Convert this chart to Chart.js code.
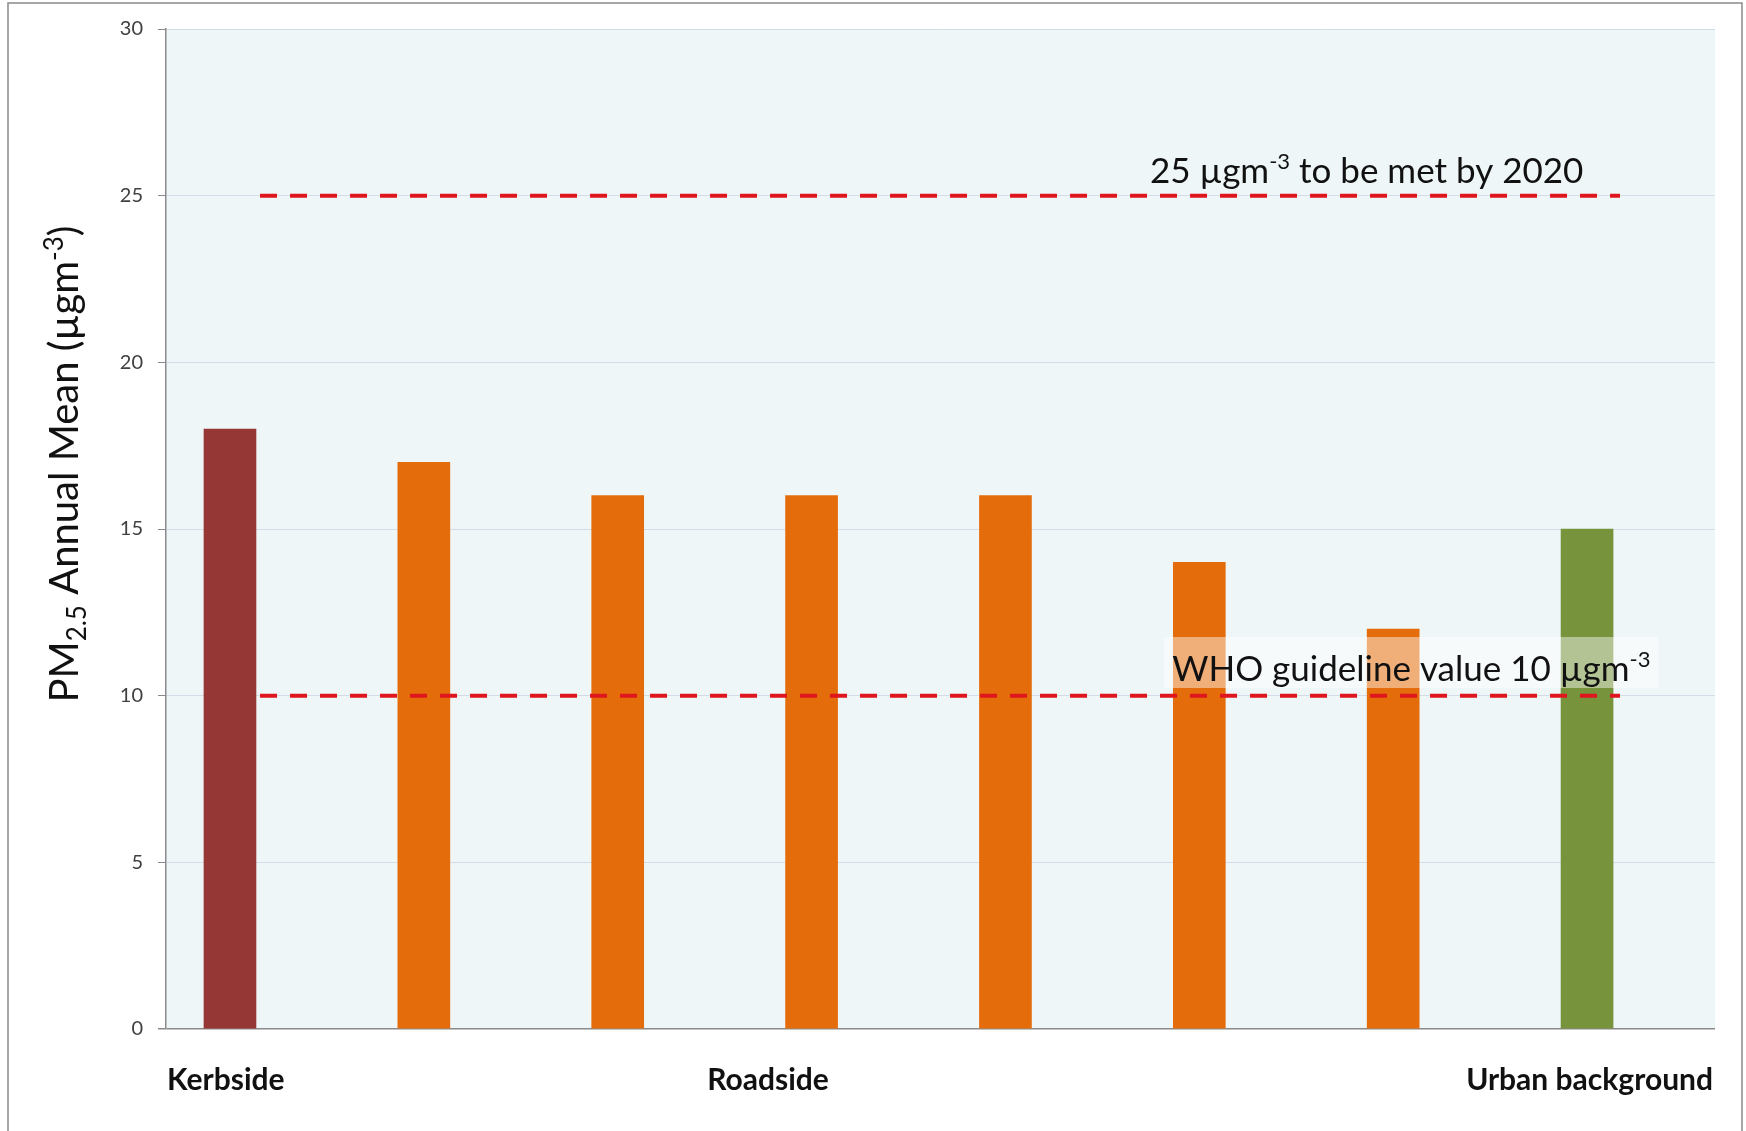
<!DOCTYPE html>
<html>
<head>
<meta charset="utf-8">
<script src="https://cdn.jsdelivr.net/npm/chart.js@4.4.0/dist/chart.umd.min.js"></script>
<style>
    body { margin: 0; background: #fff; }
    #wrap { width: 1746px; height: 1131px; }
</style>
</head>
<body>
<div id="wrap"><canvas id="pmChart" width="1746" height="1131"></canvas></div>
<script>
// Monitoring sites, left to right
const siteTypes = ['Kerbside', 'Roadside', 'Roadside', 'Roadside', 'Roadside', 'Roadside', 'Roadside', 'Urban background'];
const annualMeans = [18, 17, 16, 16, 16, 14, 12, 15];

// Group captions under the axis
const groupLabels = ['Kerbside', 'Roadside', 'Urban background'];

// Limit values and their captions
const limitValues = [25, 10];
const limitLabels = [
    ['25 µgm', '-3', ' to be met by 2020'],
    ['WHO guideline value 10 µgm', '-3', '']
];

const yTicks = [0, 5, 10, 15, 20, 25, 30];

const typeColors = {
    'Kerbside': '#953735',
    'Roadside': '#E46C0A',
    'Urban background': '#77933C'
};

const FONT = 'Lato, "Open Sans", sans-serif';
const AXIS_GREY = '#8a8a8a';

// Draw a run of text pieces; odd pieces are superscripts
function drawSupText(ctx, parts, x, y, size) {
    let cx = x;
    parts.forEach((p, i) => {
        if (!p) return;
        const sup = i % 2 === 1;
        ctx.font = (sup ? Math.round(size * 0.62) : size) + 'px ' + FONT;
        ctx.fillText(p, cx, sup ? y - size * 0.38 : y);
        cx += ctx.measureText(p).width;
    });
    return cx;
}

function measureSupText(ctx, parts, size) {
    let w = 0;
    parts.forEach((p, i) => {
        if (!p) return;
        ctx.font = (i % 2 === 1 ? Math.round(size * 0.62) : size) + 'px ' + FONT;
        w += ctx.measureText(p).width;
    });
    return w;
}

const decorPlugin = {
    id: 'decor',
    beforeDraw(chart) {
        const { ctx, chartArea } = chart;
        ctx.save();
        ctx.fillStyle = '#fff';
        ctx.fillRect(0, 0, chart.width, chart.height);
        // outer frame
        ctx.strokeStyle = AXIS_GREY;
        ctx.lineWidth = 1.5;
        ctx.strokeRect(8, 3, 1734, 1160);
        // plot area fill
        ctx.fillStyle = '#EEF6F8';
        ctx.fillRect(chartArea.left, chartArea.top, chartArea.right - chartArea.left, chartArea.bottom - chartArea.top);
        ctx.restore();
    },
    afterDraw(chart) {
        const { ctx, chartArea, scales } = chart;
        const x = scales.x, y = scales.y;
        const capSize = 35;
        ctx.save();
        ctx.fillStyle = '#111';
        ctx.textBaseline = 'alphabetic';
        ctx.textAlign = 'left';

        // caption for the 2020 limit
        drawSupText(ctx, limitLabels[0], x.getPixelForValue(4.745), y.getPixelForValue(limitValues[0]) - 13, capSize);

        // WHO caption sits on a pale box
        const whoX = x.getPixelForValue(4.86);
        const whoY = y.getPixelForValue(limitValues[1]) - 15;
        const whoW = measureSupText(ctx, limitLabels[1], capSize);
        ctx.fillStyle = 'rgba(255,255,255,0.45)';
        ctx.fillRect(whoX - 8, y.getPixelForValue(11.76), whoW + 16, y.getPixelForValue(10.23) - y.getPixelForValue(11.76));
        ctx.fillStyle = '#111';
        drawSupText(ctx, limitLabels[1], whoX, whoY, capSize);

        // group captions
        ctx.font = 'bold 30px ' + FONT;
        ctx.fillStyle = '#111';
        const gy = chartArea.bottom + 61;
        ctx.textAlign = 'left';
        ctx.fillText(groupLabels[0], chartArea.left + 1, gy);
        ctx.textAlign = 'center';
        ctx.fillText(groupLabels[1], 768, gy);
        ctx.textAlign = 'right';
        ctx.fillText(groupLabels[2], chartArea.right - 2, gy);

        // rotated y-axis title with sub/superscripts
        const size = 40;
        const parts = [
            { t: 'PM', s: 1, dy: 0 },
            { t: '2.5', s: 0.66, dy: 0.2 },
            { t: ' Annual Mean (µgm', s: 1, dy: 0 },
            { t: '-3', s: 0.66, dy: -0.38 },
            { t: ')', s: 1, dy: 0 }
        ];
        let total = 0;
        parts.forEach(p => {
            ctx.font = Math.round(size * p.s) + 'px ' + FONT;
            total += ctx.measureText(p.t).width;
        });
        ctx.translate(78, 464);
        ctx.rotate(-Math.PI / 2);
        ctx.textAlign = 'left';
        let cx = -total / 2;
        parts.forEach(p => {
            ctx.font = Math.round(size * p.s) + 'px ' + FONT;
            ctx.fillText(p.t, cx, p.dy * size);
            cx += ctx.measureText(p.t).width;
        });
        ctx.restore();
    }
};

const barData = annualMeans.map((v, i) => ({ x: i, y: v }));

const limitDatasets = limitValues.map(v => ({
    type: 'line',
    data: [{ x: 0.155, y: v }, { x: 7.17, y: v }],
    borderColor: '#E0161E',
    borderWidth: 4,
    borderDash: [17, 13],
    pointRadius: 0,
    order: 0
}));

const ctx = document.getElementById('pmChart').getContext('2d');
new Chart(ctx, {
    type: 'bar',
    data: {
        datasets: [
            {
                data: barData,
                backgroundColor: siteTypes.map(t => typeColors[t]),
                borderWidth: 0,
                barThickness: 52,
                order: 1
            },
            ...limitDatasets
        ]
    },
    options: {
        responsive: false,
        animation: false,
        layout: { padding: { left: 0, top: 29, right: 31, bottom: 102 } },
        plugins: {
            legend: { display: false },
            tooltip: { enabled: false }
        },
        scales: {
            x: {
                type: 'linear',
                display: false,
                offset: false,
                min: -0.33,
                max: 7.66
            },
            y: {
                min: 0,
                max: 30,
                afterFit(scale) { scale.width = 166; },
                afterBuildTicks(scale) { scale.ticks = yTicks.map(v => ({ value: v })); },
                border: { display: true, color: AXIS_GREY, width: 1.5 },
                grid: {
                    color: c => (c.tick && c.tick.value === 0 ? AXIS_GREY : '#D3DCE8'),
                    lineWidth: c => (c.tick && c.tick.value === 0 ? 1.5 : 1),
                    tickColor: AXIS_GREY,
                    tickLength: 8
                },
                ticks: {
                    padding: 15,
                    color: '#404040',
                    font: { family: FONT, size: 20 }
                }
            }
        }
    },
    plugins: [decorPlugin]
});
</script>
</body>
</html>
